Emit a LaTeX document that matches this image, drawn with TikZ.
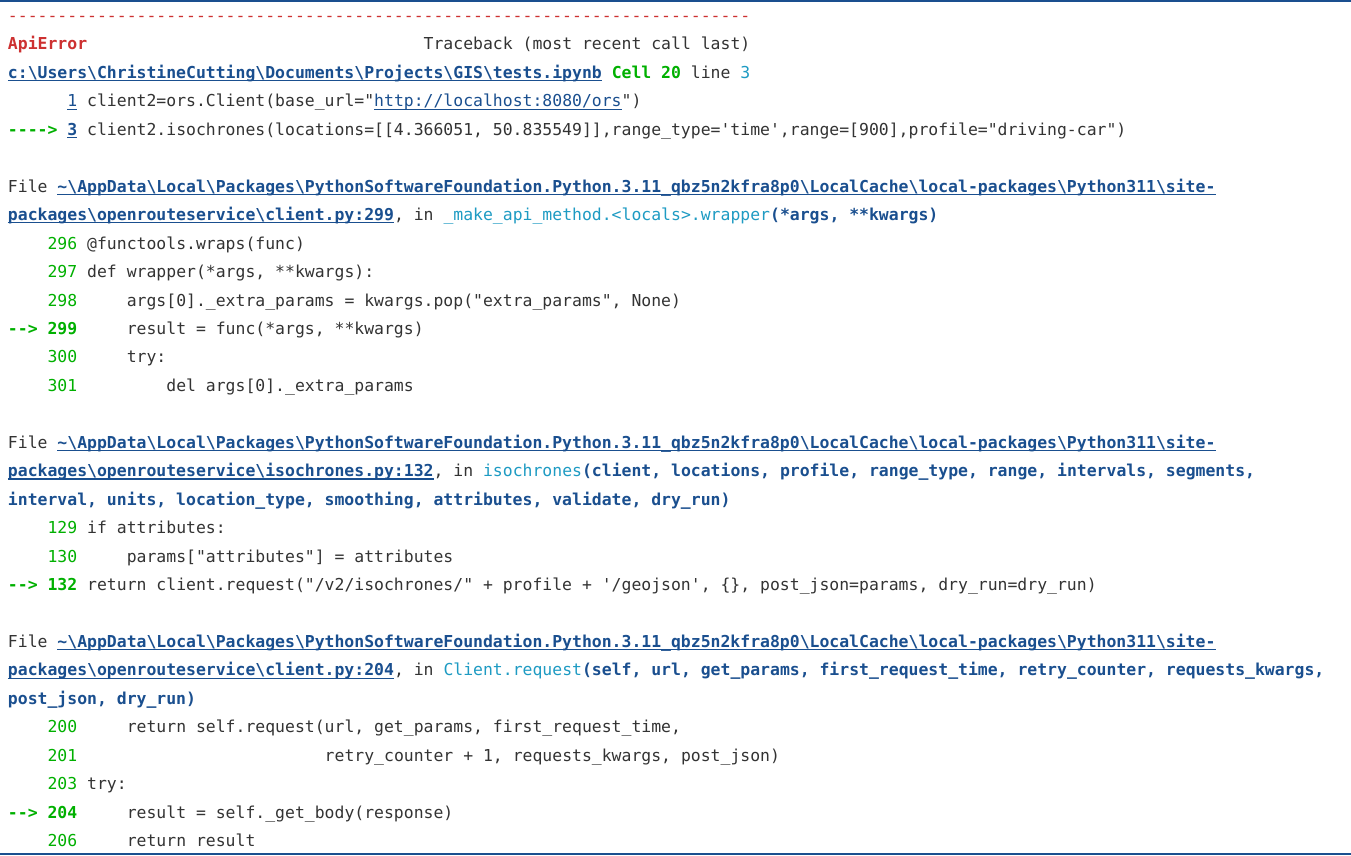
\documentclass[tikz,border=0pt]{standalone}
\usepackage{fontspec}
\setmonofont{DejaVu Sans Mono}
\definecolor{cred}{HTML}{CD3131}
\definecolor{cgreen}{HTML}{00B000}
\definecolor{cblue}{HTML}{1A4F8F}
\definecolor{ccyan}{HTML}{1E9BC3}
\definecolor{cgray}{HTML}{333333}
\definecolor{cborder}{HTML}{1A4F8F}
\newcommand\codefnt{\ttfamily\fontsize{16.44}{20}\selectfont\frenchspacing}
\newcommand\bs{\textbackslash}
\newcommand\spc[1]{\hspace*{\dimexpr #1\fontcharwd\font32\relax}}
\newsavebox\ulbox
\newcommand\ulin[1]{\sbox\ulbox{#1}\rlap{\rule[-2.8pt]{\wd\ulbox}{1.1pt}}\usebox\ulbox}
\newcommand\lnk[1]{{\color{cblue}\ulin{#1}}}
\newcommand\blnk[1]{{\color{cblue}\bfseries\ulin{#1}}}
\newcommand\grn[1]{{\color{cgreen}#1}}
\newcommand\bgrn[1]{{\color{cgreen}\bfseries #1}}
\newcommand\cyn[1]{{\color{ccyan}#1}}
\newcommand\barg[1]{{\color{cblue}\bfseries #1}}
\newcommand\tendash{----------}
\newcommand\apppath{\textasciitilde\bs AppData\bs Local\bs Packages\bs PythonSoftwareFoundation.Python.3.11\_qbz5n2kfra8p0\bs LocalCache\bs local-packages\bs Python311\bs site-}
\tikzset{code/.style={anchor=base west, inner sep=0pt, outer sep=0pt, font=\codefnt, text=cgray},
  border/.style={draw=cborder, line width=1.6pt}}
\begin{document}
\begin{tikzpicture}[x=1pt,y=1pt]
\useasboundingbox (0,0) rectangle (1351,-855);
\fill[white] (0,0) rectangle (1351,-855);
\coordinate (tl) at (0,-0.8);
\coordinate (tr) at (1351,-0.8);
\coordinate (bl) at (0,-854.2);
\coordinate (br) at (1351,-854.2);
\draw[border] (tl) -- (tr);
\draw[border] (bl) -- (br);
\node[code] (l0) at (8,-21.5) {{\color{cred}\tendash\tendash\tendash\tendash\tendash\tendash\tendash-----}};
\node[code] (l1) at (8,-49.95) {{\color{cred}\bfseries ApiError}\spc{34}Traceback (most recent call last)};
\node[code] (l2) at (8,-78.4) {\blnk{c:\bs Users\bs ChristineCutting\bs Documents\bs Projects\bs GIS\bs tests.ipynb} \bgrn{Cell 20} line \cyn{3}};
\node[code] (l3) at (8,-106.85) {\spc{6}\lnk{1} client2=ors.Client(base\_url="\lnk{http://localhost:8080/ors}")};
\node[code] (l4) at (8,-135.3) {\bgrn{---->} \blnk{3} client2.isochrones(locations=[[4.366051, 50.835549]],range\_type='time',range=[900],profile="driving-car")};
\node[code] (l6) at (8,-192.2) {File \blnk{\apppath}};
\node[code] (l7) at (8,-220.65) {\blnk{packages\bs openrouteservice\bs client.py:299}, in \cyn{\_make\_api\_method.<locals>.wrapper}\barg{(*args, **kwargs)}};
\node[code] (l8) at (8,-249.1) {\spc{4}\grn{296} @functools.wraps(func)};
\node[code] (l9) at (8,-277.55) {\spc{4}\grn{297} def wrapper(*args, **kwargs):};
\node[code] (l10) at (8,-306.0) {\spc{4}\grn{298}\spc{5}args[0].\_extra\_params = kwargs.pop("extra\_params", None)};
\node[code] (l11) at (8,-334.45) {\bgrn{--> 299}\spc{5}result = func(*args, **kwargs)};
\node[code] (l12) at (8,-362.9) {\spc{4}\grn{300}\spc{5}try:};
\node[code] (l13) at (8,-391.35) {\spc{4}\grn{301}\spc{9}del args[0].\_extra\_params};
\node[code] (l15) at (8,-448.25) {File \blnk{\apppath}};
\node[code] (l16) at (8,-476.7) {\blnk{packages\bs openrouteservice\bs isochrones.py:132}, in \cyn{isochrones}\barg{(client, locations, profile, range\_type, range, intervals, segments,}};
\node[code] (l17) at (8,-505.15) {\barg{interval, units, location\_type, smoothing, attributes, validate, dry\_run)}};
\node[code] (l18) at (8,-533.6) {\spc{4}\grn{129} if attributes:};
\node[code] (l19) at (8,-562.05) {\spc{4}\grn{130}\spc{5}params["attributes"] = attributes};
\node[code] (l20) at (8,-590.5) {\bgrn{--> 132} return client.request("/v2/isochrones/" + profile + '/geojson', \{\}, post\_json=params, dry\_run=dry\_run)};
\node[code] (l22) at (8,-647.4) {File \blnk{\apppath}};
\node[code] (l23) at (8,-675.85) {\blnk{packages\bs openrouteservice\bs client.py:204}, in \cyn{Client.request}\barg{(self, url, get\_params, first\_request\_time, retry\_counter, requests\_kwargs,}};
\node[code] (l24) at (8,-704.3) {\barg{post\_json, dry\_run)}};
\node[code] (l25) at (8,-732.75) {\spc{4}\grn{200}\spc{5}return self.request(url, get\_params, first\_request\_time,};
\node[code] (l26) at (8,-761.2) {\spc{4}\grn{201}\spc{25}retry\_counter + 1, requests\_kwargs, post\_json)};
\node[code] (l27) at (8,-789.65) {\spc{4}\grn{203} try:};
\node[code] (l28) at (8,-818.1) {\bgrn{--> 204}\spc{5}result = self.\_get\_body(response)};
\node[code] (l29) at (8,-846.55) {\spc{4}\grn{206}\spc{5}return result};
\end{tikzpicture}
\end{document}
